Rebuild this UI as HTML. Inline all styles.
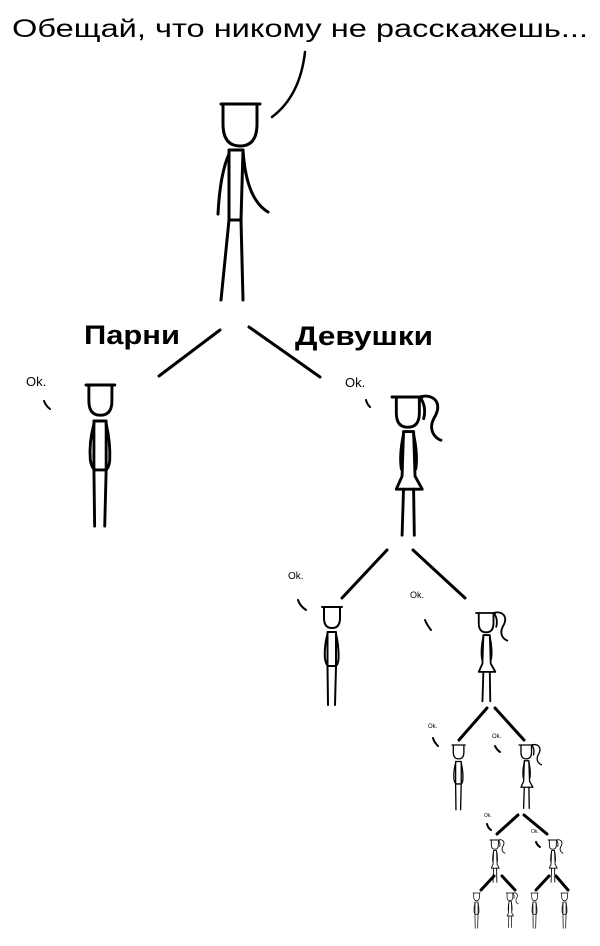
<!DOCTYPE html>
<html><head><meta charset="utf-8"><style>
html,body{margin:0;padding:0;background:#fff;}
svg{display:block;}
</style></head><body>
<svg width="600" height="946" viewBox="0 0 600 946" xmlns="http://www.w3.org/2000/svg">
<defs>
<g id="boyTop" fill="none" stroke="#000" stroke-width="3" stroke-linecap="round" stroke-linejoin="round">
  <path d="M1 0 H40 M3 0 V20 Q3 42 20 42 Q37 42 37 20 V0"/>
  <path d="M9 46 H23 M9 46 L9 116 L1 196 M23 46 L21 116 L23 196 M9 116 H21"/>
  <path d="M9 50 Q0 70 -2 110 M23 46 Q26 95 48 108"/>
</g>
<g id="boy" fill="none" stroke="#000" stroke-width="4" stroke-linecap="round" stroke-linejoin="round">
  <path d="M0 0 H40 M4 0 V22 Q4 42 20 42 Q36 42 36 22 V0"/>
  <path d="M11 50 H28 M11 50 L11 118 L12 196 M28 50 L28 118 L26 196 M11 118 H28"/>
  <path d="M11 54 Q4 80 6 104 Q8 116 13 118 M28 54 Q34 80 33 104 Q32 116 27 118"/>
</g>
<g id="girl" fill="none" stroke="#000" stroke-width="4" stroke-linecap="round" stroke-linejoin="round">
  <path d="M0 0 H42 M6 0 V22 Q6 42 22 42 Q38 42 38 22 V0"/>
  <path d="M38 0 Q52 -4 60 4 Q68 14 58 30 Q52 42 58 52 Q62 58 68 60 M40 2 Q48 14 44 30"/>
  <path d="M16 48 H30 M16 48 L14 110 M30 48 L32 110 M14 110 L6 128 H42 L32 110"/>
  <path d="M16 52 Q10 80 13 100 M30 52 Q36 80 33 100"/>
  <path d="M16 128 L14 192 M30 128 L31 192"/>
</g>
</defs>

<text x="12" y="37" font-family="Liberation Sans, sans-serif" font-size="25" textLength="576" lengthAdjust="spacingAndGlyphs">Обещай, что никому не расскажешь...</text>
<path d="M305 52 Q300 96 272 117" fill="none" stroke="#000" stroke-width="2.5" stroke-linecap="round"/>

<use href="#boyTop" transform="translate(220,104)"/>

<text x="84" y="344" font-family="Liberation Sans, sans-serif" font-size="27" font-weight="bold" textLength="96" lengthAdjust="spacingAndGlyphs">Парни</text>
<text x="295" y="345" font-family="Liberation Sans, sans-serif" font-size="27" font-weight="bold" textLength="138" lengthAdjust="spacingAndGlyphs">Девушки</text>

<g fill="none" stroke="#000" stroke-width="3" stroke-linecap="round">
  <path d="M220 330 L159 376 M249 327 L320 377"/>
  <path d="M387 550 L342 598 M413 550 L465 598"/>
  <path d="M487 708 L459 740 M495 708 L524 740"/>
  <path d="M518 815 L497 834 M524 815 L547 834"/>
  <path d="M494 876 L481 890 M502 876 L515 890 M549 876 L536 890 M556 876 L568 890"/>
</g>

<g font-family="Liberation Sans, sans-serif" fill="#000">
  <text x="26" y="386" font-size="13">Ok.</text>
  <text x="345" y="387" font-size="13">Ok.</text>
  <text x="288" y="579" font-size="10">Ok.</text>
  <text x="410" y="598" font-size="9">Ok.</text>
  <text x="428" y="728" font-size="6">Ok.</text>
  <text x="492" y="738" font-size="6">Ok.</text>
  <text x="484" y="817" font-size="5">Ok.</text>
  <text x="531" y="833" font-size="5">Ok.</text>
</g>
<g fill="none" stroke="#000" stroke-width="2" stroke-linecap="round">
  <path d="M44 401 Q46 406 50 409 M366 400 Q367 404 370 407 M298 600 Q300 606 306 610 M425 620 Q427 625 431 630"/>
  <path d="M433 738 Q434 742 438 746 M495 746 Q497 750 500 752 M487 824 Q488 828 491 830 M536 842 Q537 845 540 847"/>
</g>

<use href="#boy" transform="translate(86,385) scale(0.72)"/>
<use href="#girl" transform="translate(392,397) scale(0.72)"/>
<use href="#boy" transform="translate(322,607) scale(0.5)"/>
<use href="#girl" transform="translate(476,613) scale(0.46)"/>
<use href="#boy" transform="translate(452,745) scale(0.33)"/>
<use href="#girl" transform="translate(519,745) scale(0.33)"/>
<use href="#girl" transform="translate(490,840) scale(0.22)"/>
<use href="#girl" transform="translate(548,840) scale(0.22)"/>
<use href="#boy" transform="translate(473,893) scale(0.18)"/>
<use href="#girl" transform="translate(506,893) scale(0.18)"/>
<use href="#boy" transform="translate(531,893) scale(0.18)"/>
<use href="#boy" transform="translate(561,893) scale(0.18)"/>
</svg>
</body></html>
